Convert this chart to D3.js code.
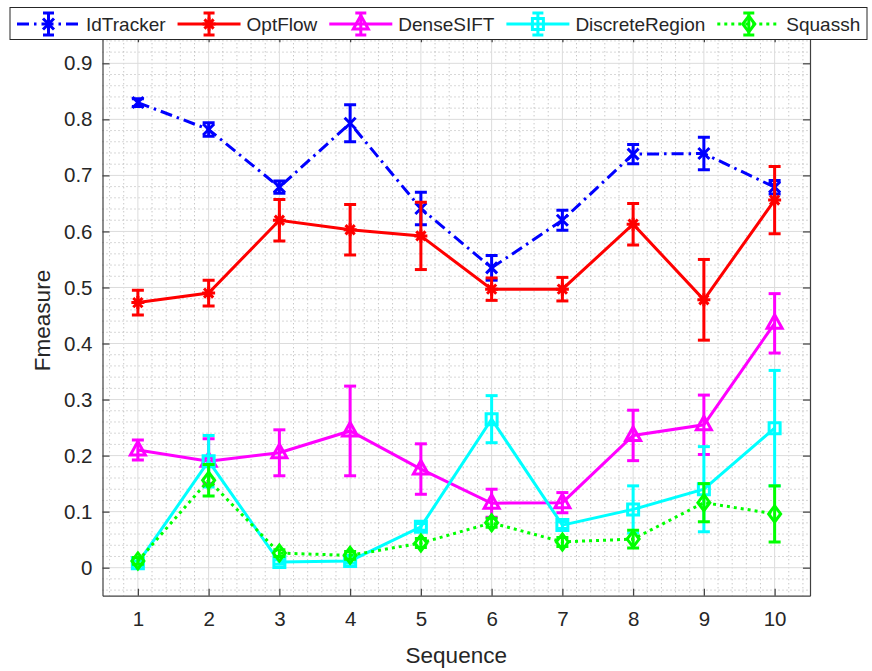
<!DOCTYPE html>
<html>
<head>
<meta charset="utf-8">
<script src="https://cdn.jsdelivr.net/npm/d3@7"></script>
<style>
  body { margin: 0; background: #fff; }
  text { font-family: "Liberation Sans", Arial, sans-serif; fill: #262626; }
</style>
</head>
<body>
<div id="chart"></div>
<script>
// values, sequence 1..10
var sequences = [1, 2, 3, 4, 5, 6, 7, 8, 9, 10];
var seriesNames = ["IdTracker", "OptFlow", "DenseSIFT", "DiscreteRegion", "Squassh"];

var idTracker    = [0.830, 0.782, 0.679, 0.793, 0.641, 0.535, 0.620, 0.738, 0.739, 0.679];
var idTrackerErr = [0.007, 0.012, 0.011, 0.033, 0.029, 0.022, 0.018, 0.017, 0.029, 0.012];

var optFlow    = [0.473, 0.490, 0.620, 0.603, 0.592, 0.497, 0.497, 0.613, 0.478, 0.656];
var optFlowErr = [0.022, 0.023, 0.037, 0.045, 0.060, 0.020, 0.021, 0.037, 0.072, 0.060];

var denseSift    = [0.210, 0.190, 0.205, 0.244, 0.176, 0.115, 0.116, 0.236, 0.255, 0.436];
var denseSiftErr = [0.018, 0.040, 0.041, 0.080, 0.045, 0.025, 0.018, 0.045, 0.053, 0.053];

var discreteRegion    = [0.008, 0.190, 0.010, 0.012, 0.073, 0.265, 0.076, 0.104, 0.140, 0.249];
var discreteRegionErr = [0.004, 0.046, 0.004, 0.004, 0.006, 0.042, 0.006, 0.042, 0.076, 0.103];

var squassh    = [0.012, 0.156, 0.026, 0.022, 0.044, 0.080, 0.046, 0.051, 0.116, 0.096];
var squasshErr = [0.006, 0.028, 0.006, 0.007, 0.008, 0.008, 0.008, 0.016, 0.034, 0.050];

var yTicks = [0, 0.1, 0.2, 0.3, 0.4, 0.5, 0.6, 0.7, 0.8, 0.9];

var series = [
  { name: seriesNames[0], values: idTracker, err: idTrackerErr, color: "#0000ff", dash: "12,5,2.5,5", marker: "x" },
  { name: seriesNames[1], values: optFlow, err: optFlowErr, color: "#ff0000", dash: null, marker: "star" },
  { name: seriesNames[2], values: denseSift, err: denseSiftErr, color: "#ff00ff", dash: null, marker: "triangle" },
  { name: seriesNames[3], values: discreteRegion, err: discreteRegionErr, color: "#00ffff", dash: null, marker: "square" },
  { name: seriesNames[4], values: squassh, err: squasshErr, color: "#00ff00", dash: "3,4", marker: "diamond" },
];

var W = 872, H = 671;
// note: "top" is taken by window.top, so prefix these
var pLeft = 102.5, pRight = 810, pTop = 35.3, pBottom = 595.7;
var lw = 3;

var x = d3.scaleLinear().domain([0.5, 10.5]).range([pLeft, pRight]);
var y = d3.scaleLinear().domain([-0.05, 0.95]).range([pBottom, pTop]);

var svg = d3.select("#chart").append("svg")
  .attr("width", W)
  .attr("height", H);

svg.append("rect").attr("width", W).attr("height", H).attr("fill", "#fff");

var plot = svg.append("g");

// minor grid (dotted)
plot.append("g")
  .selectAll("line")
  .data(d3.range(0.6, 10.5, 0.2).filter((v) => Math.abs(v - Math.round(v)) > 0.01))
  .enter().append("line")
  .attr("x1", (d) => x(d)).attr("x2", (d) => x(d))
  .attr("y1", pTop).attr("y2", pBottom)
  .attr("stroke", "#b0b0b0").attr("stroke-width", 1).attr("stroke-dasharray", "1,3");

plot.append("g")
  .selectAll("line")
  .data(d3.range(-0.04, 0.95, 0.02).filter((v) => Math.abs(v * 10 - Math.round(v * 10)) > 0.01))
  .enter().append("line")
  .attr("x1", pLeft).attr("x2", pRight)
  .attr("y1", (d) => y(d)).attr("y2", (d) => y(d))
  .attr("stroke", "#b0b0b0").attr("stroke-width", 1).attr("stroke-dasharray", "1,3");

// major grid
plot.append("g")
  .selectAll("line")
  .data(sequences)
  .enter().append("line")
  .attr("x1", (d) => x(d)).attr("x2", (d) => x(d))
  .attr("y1", pTop).attr("y2", pBottom)
  .attr("stroke", "#dcdcdc").attr("stroke-width", 1);

plot.append("g")
  .selectAll("line")
  .data(yTicks)
  .enter().append("line")
  .attr("x1", pLeft).attr("x2", pRight)
  .attr("y1", (d) => y(d)).attr("y2", (d) => y(d))
  .attr("stroke", "#dcdcdc").attr("stroke-width", 1);

// axes with inward ticks
var xAxis = d3.axisBottom(x).tickValues(sequences).tickSizeInner(-7).tickSizeOuter(0).tickPadding(16);
var yAxis = d3.axisLeft(y).tickValues(yTicks).tickSizeInner(-7).tickSizeOuter(0).tickPadding(10)
  .tickFormat((d) => d === 0 ? "0" : d3.format(".1f")(d));

var gx = svg.append("g").attr("transform", `translate(0,${pBottom})`).call(xAxis);
var gy = svg.append("g").attr("transform", `translate(${pLeft},0)`).call(yAxis);
var gx2 = svg.append("g").attr("transform", `translate(0,${pTop})`)
  .call(d3.axisTop(x).tickValues(sequences).tickSizeInner(-7).tickSizeOuter(0).tickFormat(""));
var gy2 = svg.append("g").attr("transform", `translate(${pRight},0)`)
  .call(d3.axisRight(y).tickValues(yTicks).tickSizeInner(-7).tickSizeOuter(0).tickFormat(""));

[gx, gy, gx2, gy2].forEach((g) => {
  g.select(".domain").attr("stroke", "#404040").attr("stroke-width", 1.2);
  g.selectAll(".tick line").attr("stroke", "#404040").attr("stroke-width", 1.2);
  g.selectAll(".tick text")
    .attr("font-size", 20.5)
    .attr("font-family", "Liberation Sans, Arial, sans-serif")
    .attr("fill", "#262626");
});

svg.append("text")
  .attr("x", x(5.5)).attr("y", 663)
  .attr("text-anchor", "middle")
  .attr("font-size", 22.5)
  .text("Sequence");

svg.append("text")
  .attr("transform", `translate(50,${(pTop + pBottom) / 2 + 5}) rotate(-90)`)
  .attr("text-anchor", "middle")
  .attr("font-size", 22.5)
  .text("Fmeasure");

// marker shapes, centred on 0,0
function markerPath(kind) {
  var p = d3.path();
  if (kind == "x") {
    var s = 5.5;
    p.moveTo(-s, -s); p.lineTo(s, s);
    p.moveTo(-s, s); p.lineTo(s, -s);
  } else if (kind == "star") {
    var s = 6.5, d = 4.6;
    p.moveTo(-s, 0); p.lineTo(s, 0);
    p.moveTo(0, -s); p.lineTo(0, s);
    p.moveTo(-d, -d); p.lineTo(d, d);
    p.moveTo(-d, d); p.lineTo(d, -d);
  } else if (kind == "triangle") {
    p.moveTo(0, -8.5); p.lineTo(7.5, 5); p.lineTo(-7.5, 5); p.closePath();
  } else if (kind == "square") {
    p.rect(-5.5, -5.5, 11, 11);
  } else if (kind == "diamond") {
    p.moveTo(0, -8); p.lineTo(6, 0); p.lineTo(0, 8); p.lineTo(-6, 0); p.closePath();
  }
  return p.toString();
}

var line = d3.line().x((d) => x(d.seq)).y((d) => y(d.v));
var cap = 6;

svg.append("clipPath").attr("id", "plotclip")
  .append("rect").attr("x", pLeft).attr("y", pTop).attr("width", pRight - pLeft).attr("height", pBottom - pTop);

var marks = svg.append("g").attr("clip-path", "url(#plotclip)");

series.forEach((s) => {
  var pts = sequences.map((q, i) => ({ seq: q, v: s.values[i], e: s.err[i] }));
  var g = marks.append("g");

  g.append("path")
    .datum(pts)
    .attr("d", line)
    .attr("fill", "none")
    .attr("stroke", s.color)
    .attr("stroke-width", lw)
    .attr("stroke-dasharray", s.dash);

  // error bars
  var eb = g.selectAll(".eb").data(pts).enter().append("g").attr("class", "eb");
  eb.append("line")
    .attr("x1", (d) => x(d.seq)).attr("x2", (d) => x(d.seq))
    .attr("y1", (d) => y(d.v - d.e)).attr("y2", (d) => y(d.v + d.e));
  eb.append("line")
    .attr("x1", (d) => x(d.seq) - cap).attr("x2", (d) => x(d.seq) + cap)
    .attr("y1", (d) => y(d.v + d.e)).attr("y2", (d) => y(d.v + d.e));
  eb.append("line")
    .attr("x1", (d) => x(d.seq) - cap).attr("x2", (d) => x(d.seq) + cap)
    .attr("y1", (d) => y(d.v - d.e)).attr("y2", (d) => y(d.v - d.e));
  eb.selectAll("line").attr("stroke", s.color).attr("stroke-width", lw);

  g.selectAll(".mk").data(pts).enter().append("path")
    .attr("class", "mk")
    .attr("transform", (d) => `translate(${x(d.seq)},${y(d.v)})`)
    .attr("d", markerPath(s.marker))
    .attr("fill", "none")
    .attr("stroke", s.color)
    .attr("stroke-width", lw);
});

// legend along the top
var legend = svg.append("g");
legend.append("rect")
  .attr("x", 10).attr("y", 7.5).attr("width", 857).attr("height", 32)
  .attr("fill", "#fff").attr("stroke", "#262626").attr("stroke-width", 1);

var lx = 17, ly = 24;
series.forEach((s) => {
  var g = legend.append("g").attr("transform", `translate(${lx},${ly})`);
  g.append("line").attr("x1", 0).attr("x2", 63).attr("y1", 0).attr("y2", 0)
    .attr("stroke", s.color).attr("stroke-width", lw).attr("stroke-dasharray", s.dash);
  g.append("line").attr("x1", 31.5).attr("x2", 31.5).attr("y1", -11).attr("y2", 11)
    .attr("stroke", s.color).attr("stroke-width", lw);
  g.append("line").attr("x1", 26).attr("x2", 37).attr("y1", -11).attr("y2", -11)
    .attr("stroke", s.color).attr("stroke-width", lw);
  g.append("line").attr("x1", 26).attr("x2", 37).attr("y1", 11).attr("y2", 11)
    .attr("stroke", s.color).attr("stroke-width", lw);
  g.append("path").attr("transform", "translate(31.5,0)")
    .attr("d", markerPath(s.marker))
    .attr("fill", "none").attr("stroke", s.color).attr("stroke-width", lw);
  var t = g.append("text").attr("x", 69).attr("y", 7)
    .attr("font-size", 19)
    .text(s.name);
  lx += 69 + t.node().getComputedTextLength() + 12;
});
</script>
</body>
</html>
